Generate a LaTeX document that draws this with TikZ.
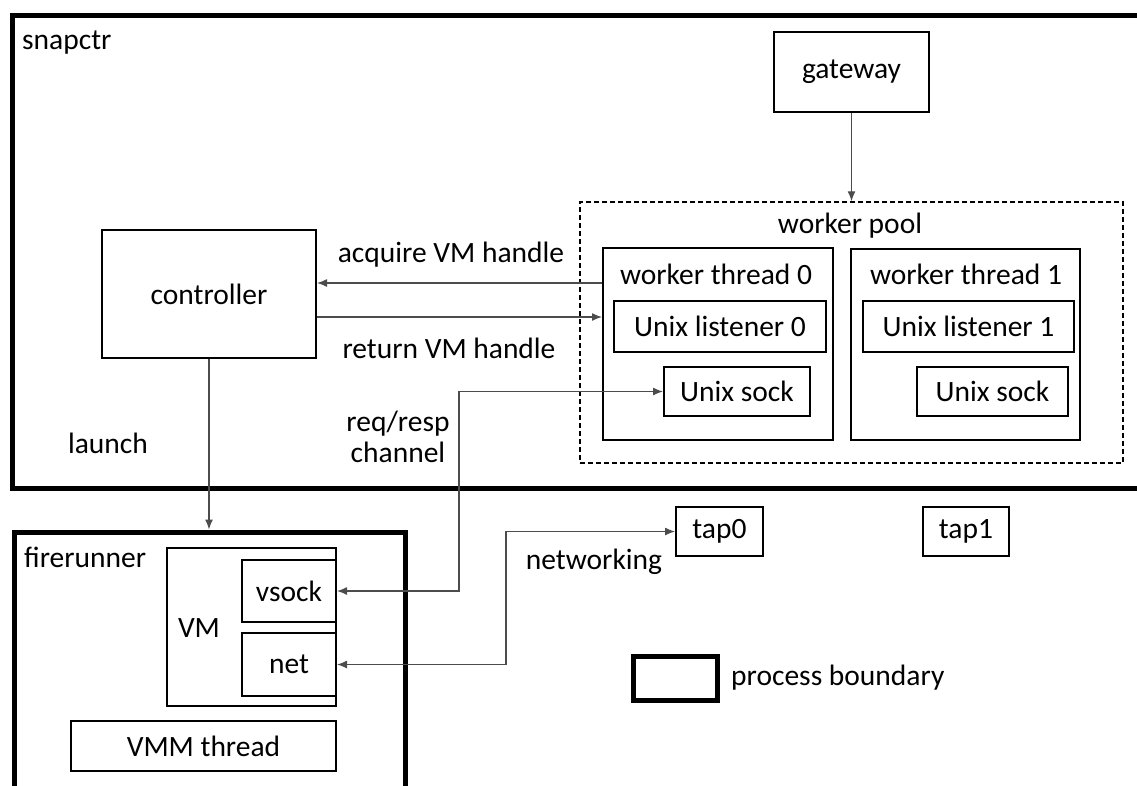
\documentclass[tikz,border=0pt]{standalone}
\usepackage{fontspec}
\setmainfont{Carlito}
\usetikzlibrary{arrows.meta, positioning, calc}
\newcommand\diagfont{\fontsize{29.5}{31}\selectfont}
\tikzset{
  >={Latex[length=10pt,width=8pt]},  % small filled tips
  % boxes
  box/.style={draw,line width=2pt,inner sep=0pt},
  proc/.style={draw,line width=5pt,inner sep=0pt},
  pool/.style={draw,line width=1.5pt,dash pattern=on 5pt off 3pt,inner sep=0pt},
  txt/.style={inner sep=0pt},
  % connectors
  conn/.style={->,draw=black!70,line width=1.3pt}
}
\begin{document}
\begin{tikzpicture}[x=1pt,y=-1pt,font=\diagfont]
  \useasboundingbox (0,0) rectangle (1137,785);
  \clip (0,0) rectangle (1137,785);
  % process boundaries
  \node[proc,minimum width=1148pt,minimum height=473pt] (snap) at (586,251.5) {};
  \node[txt,anchor=west] (snaplbl) at (22,43) {snapctr};
  \node[proc,minimum width=391pt,minimum height=290pt] (fire) at (209.5,677) {};
  \node[txt,anchor=west] (firelbl) at (24,557) {firerunner};
  % gateway and worker pool
  \node[box,minimum width=155pt,minimum height=80pt] (gw) at (851.5,72) {gateway};
  \node[pool,minimum width=543pt,minimum height=261pt] (pool) at (851.5,332.5) {};
  \node[txt] (poollbl) at (850,226) {worker pool};
  \node[box,minimum width=230pt,minimum height=192pt] (wt0) at (718,344) {};
  \node[txt] (wt0lbl) at (716,274) {worker thread 0};
  \node[box,minimum width=212pt,minimum height=51pt] (ul0) at (720,326.5) {Unix listener 0};
  \node[box,minimum width=146pt,minimum height=49pt] (us0) at (737,391.5) {Unix sock};
  \node[box,minimum width=229pt,minimum height=191pt] (wt1) at (965.5,344.5) {};
  \node[txt] (wt1lbl) at (966,274) {worker thread 1};
  \node[box,minimum width=211pt,minimum height=51pt] (ul1) at (968.5,326.5) {Unix listener 1};
  \node[box,minimum width=151pt,minimum height=49pt] (us1) at (992.5,391.5) {Unix sock};
  % controller
  \node[box,minimum width=214pt,minimum height=128pt] (ctrl) at (209,294) {controller};
  % firerunner contents
  \node[box,minimum width=169pt,minimum height=158pt] (vm) at (251.5,627) {};
  \node[txt] (vmlbl) at (199,628) {VM};
  \node[box,minimum width=94pt,minimum height=62pt] (vsock) at (289,591) {vsock};
  \node[box,minimum width=94pt,minimum height=63pt] (net) at (289,664.5) {net};
  \node[box,minimum width=265pt,minimum height=50pt] (vmm) at (203.5,746) {VMM thread};
  % tap devices
  \node[box,minimum width=87pt,minimum height=49pt] (tap0) at (719.5,531.5) {tap0};
  \node[box,minimum width=86pt,minimum height=49pt] (tap1) at (966,531.5) {tap1};
  % legend
  \node[proc,minimum width=84pt,minimum height=44pt] (leg) at (675,678) {};
  \node[txt,anchor=west] (leglbl) at (731,678) {process boundary};

  % connectors
  \coordinate (acq) at (0,283);
  \coordinate (ret) at (0,317);
  \coordinate (rrx) at (459,0);
  \coordinate (netx) at (506,0);
  \draw[conn] (gw.south) -- (gw.south |- pool.north);
  \draw[conn] (wt0.west |- acq) -- (ctrl.east |- acq);
  \draw[conn] (ctrl.east |- ret) -- (wt0.west |- ret);
  \draw[conn] (ctrl.south) -- (ctrl.south |- fire.north);
  \draw[conn,<->] (vsock.east) -| (rrx |- us0.west) -- (us0.west);
  \draw[conn,<->] (net.east) -| (netx |- tap0.west) -- (tap0.west);
  % connector labels
  \node[txt] (acqlbl) at (451,255) {acquire VM handle};
  \node[txt] (retlbl) at (449,348) {return VM handle};
  \node[txt] (launchlbl) at (108,443) {launch};
  \node[txt,align=center] (rrlbl) at (398,437) {req/resp\\channel};
  \node[txt] (netlbl) at (594,562) {networking};
\end{tikzpicture}
\end{document}
